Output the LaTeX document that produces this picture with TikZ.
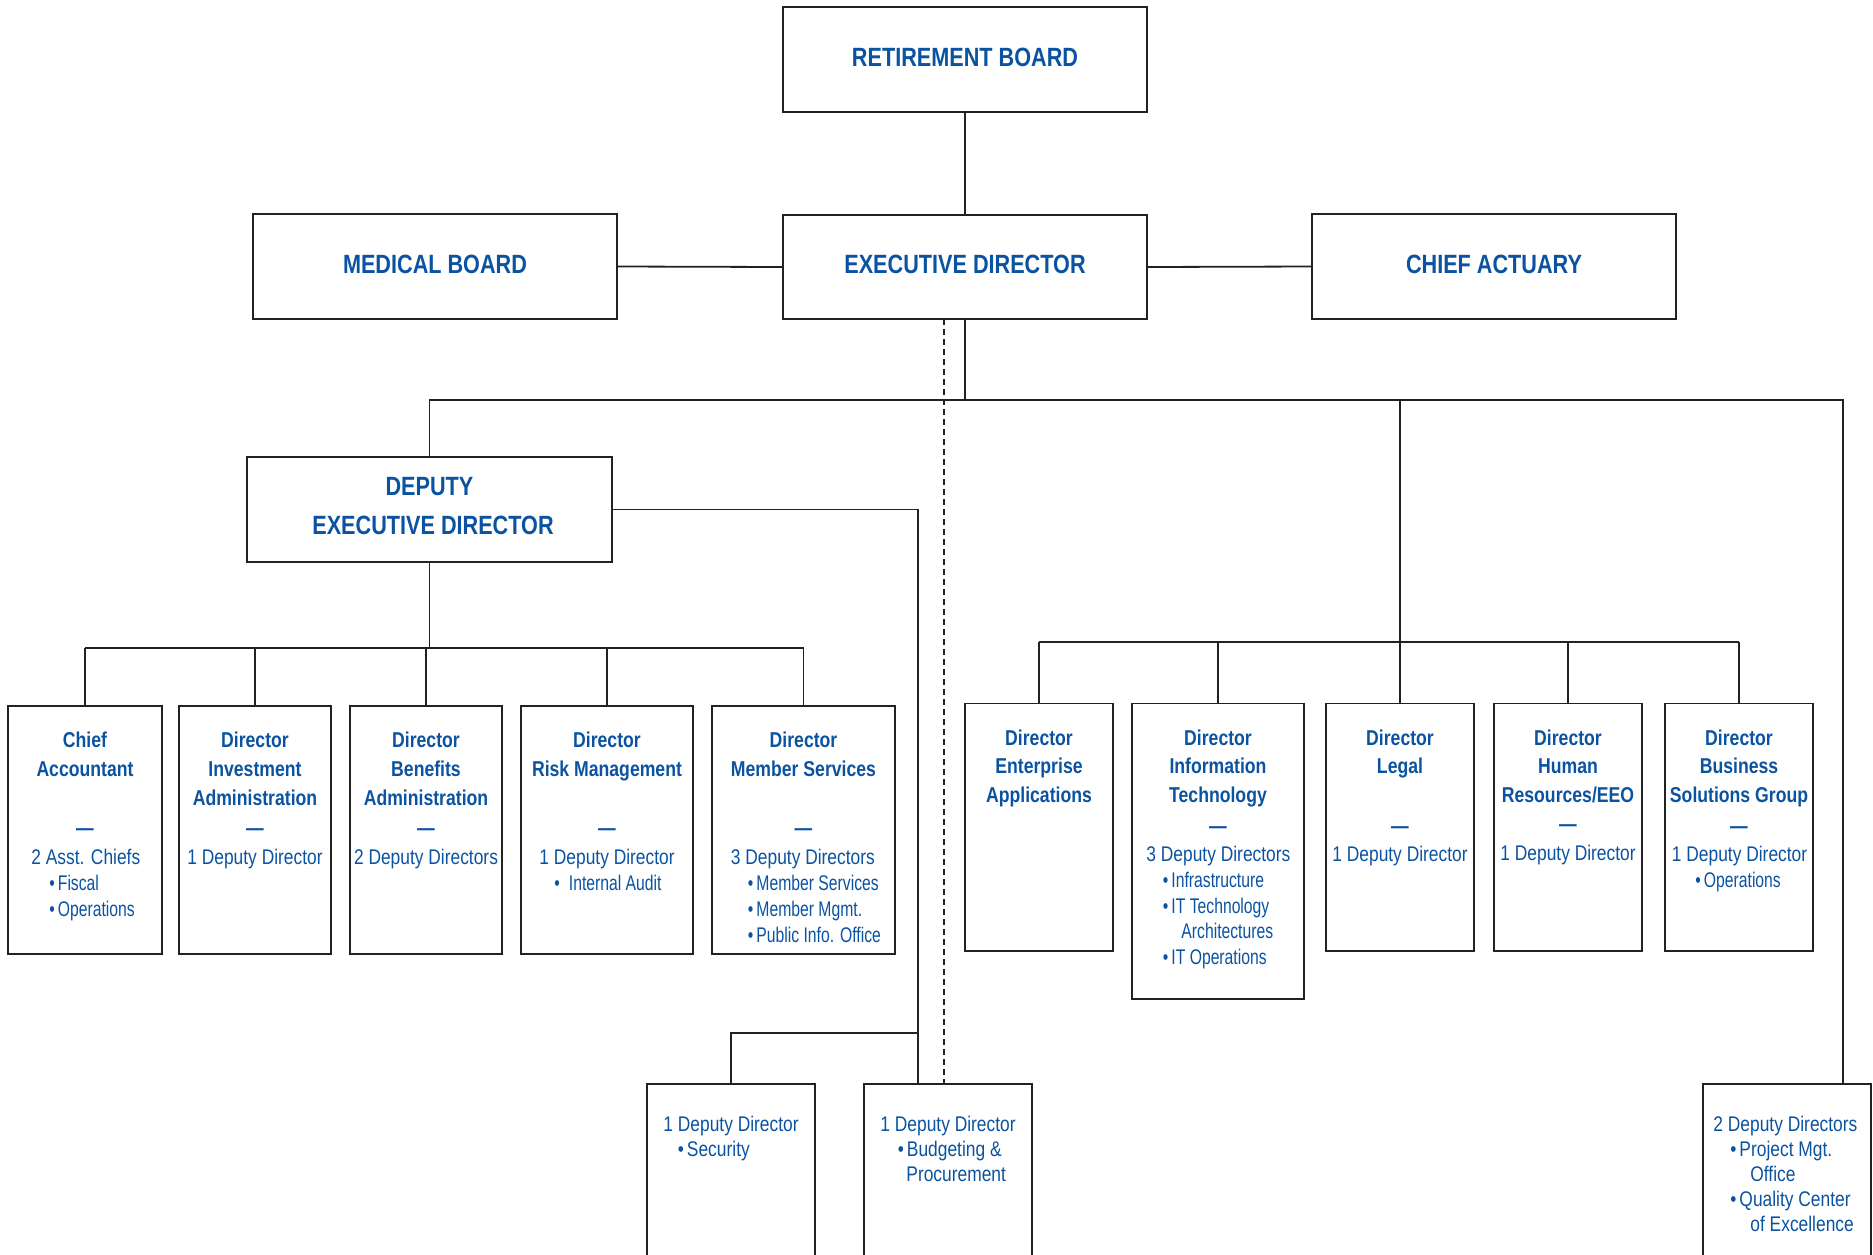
\documentclass[tikz,border=0pt]{standalone}
\usepackage{fontspec}
\setmainfont{Liberation Sans}[FakeStretch=0.82]
\newfontfamily\narrowfam{Liberation Sans}[FakeStretch=0.742]
\definecolor{txtblue}{HTML}{0B53A1}
\definecolor{linec}{HTML}{222222}
\newcommand\bx[5]{%
  \pgfmathsetmacro\bxw{(#4-#2)*0.5}%
  \pgfmathsetmacro\bxh{(#5-#3)*0.5}%
  \node[orgbox,minimum width=\bxw pt,minimum height=\bxh pt] (#1) at ({(#2+#4)/2},{(#3+#5)/2}) {};}
\begin{document}
\begin{tikzpicture}[x=0.5pt,y=-0.5pt,
  orgbox/.style={draw=linec,line width=0.9pt,rectangle,inner sep=0pt},
  conn/.style={draw=linec,line width=0.9pt},
  dsh/.style={dash pattern=on 3pt off 2pt},
  hd/.style={text=txtblue,font=\fontsize{13.2}{15}\selectfont\bfseries,anchor=base,inner sep=0pt},
  ttl/.style={text=txtblue,font=\fontsize{10.75}{13}\selectfont\bfseries,anchor=base,inner sep=0pt},
  bod/.style={text=txtblue,font=\fontsize{10.6}{12.7}\selectfont,anchor=base west,inner sep=0pt},
  bodn/.style={text=txtblue,font=\narrowfam\fontsize{10.6}{12.7}\selectfont,anchor=base west,inner sep=0pt},
  bodc/.style={bod,anchor=base}]
\useasboundingbox (0,0) rectangle (1873,1254);
\clip (0,0) rectangle (1873,1254);
% boxes
\bx{rb}{783}{7}{1147}{112}
\bx{ed}{783}{215}{1147}{319}
\bx{mb}{253}{214}{617}{319}
\bx{ca}{1312}{214}{1676}{319}
\bx{ded}{247}{457}{612}{562}
\bx{chief}{8}{706}{162}{954}
\bx{inv}{179}{706}{331}{954}
\bx{ben}{350}{706}{502}{954}
\bx{risk}{521}{706}{693}{954}
\bx{mem}{712}{706}{895}{954}
\bx{ent}{965}{703.5}{1113}{951}
\bx{it}{1132}{703.5}{1304}{999}
\bx{legal}{1326}{703.5}{1474}{951}
\bx{hr}{1494}{703.5}{1642}{951}
\bx{bsg}{1665}{703.5}{1813}{951}
\bx{sec}{647}{1084}{815}{1290}
\bx{bud}{864}{1084}{1032}{1290}
\bx{qce}{1703}{1084}{1871}{1290}
% connectors
\coordinate (busL) at (429.5,400);
\coordinate (busR) at (1843,400);
\coordinate (rbus) at (0,642);
\coordinate (lbus) at (0,648);
\coordinate (bj) at (917.7,1084);
\coordinate (sj) at (917.7,1033);
\coordinate (dtop) at (944,319);
\coordinate (dbot) at (944,1084);
\draw[conn] (rb.south) -- (ed.north);
\draw[conn] (mb.east) -- (ed.west);
\draw[conn] (ed.east) -- (ca.west);
\draw[conn] (ed.south) -- (ed.south |- busL);
\draw[conn] (ded.north) -- (busL) -- (busR) -- (busR |- qce.north);
\draw[conn] (legal.north |- busL) -- (legal.north);
\draw[conn] (ent.north |- rbus) -- (bsg.north |- rbus);
\foreach \n in {ent,it,hr,bsg} \draw[conn] (\n.north |- rbus) -- (\n.north);
\draw[conn] (ded.south) -- (ded.south |- lbus);
\draw[conn] (chief.north |- lbus) -- (mem.north |- lbus);
\foreach \n in {chief,inv,ben,risk,mem} \draw[conn] (\n.north |- lbus) -- (\n.north);
\draw[conn] (ded.east) -| (bj);
\draw[conn] (sj) -| (sec.north);
\draw[conn,dsh] (dtop) -- (dbot);
% headings
\node[hd] (rbt) at (965,66.7) {RETIREMENT BOARD};
\node[hd] (edt) at (965,273.3) {EXECUTIVE DIRECTOR};
\node[hd] (mbt) at (435,273.3) {MEDICAL BOARD};
\node[hd] (cat) at (1494,273.3) {CHIEF ACTUARY};
\node[hd] (dedt1) at (429.5,495) {DEPUTY};
\node[hd] (dedt2) at (433,534) {EXECUTIVE DIRECTOR};
% chief accountant
\node[ttl] (chief1) at (85,747.5) {Chief};
\node[ttl] (chief2) at (85,776) {Accountant};
\node[ttl] (chief3) at (85,835.5) {—};
\node[bod] (chief4) at (31,864) {2 Asst. Chiefs};
\node[bodn] (chief5) at (49,890) {•\hspace{1.5pt}Fiscal};
\node[bodn] (chief6) at (49,916) {•\hspace{1.5pt}Operations};
% investment
\node[ttl] (inv1) at (255,747.5) {Director};
\node[ttl] (inv2) at (255,776) {Investment};
\node[ttl] (inv3) at (255,805) {Administration};
\node[ttl] (inv4) at (255,835.5) {—};
\node[bodc] (inv5) at (255,864) {1 Deputy Director};
% benefits
\node[ttl] (ben1) at (426,747.5) {Director};
\node[ttl] (ben2) at (426,776) {Benefits};
\node[ttl] (ben3) at (426,805) {Administration};
\node[ttl] (ben4) at (426,835.5) {—};
\node[bodc] (ben5) at (426,864) {2 Deputy Directors};
% risk
\node[ttl] (risk1) at (607,747.5) {Director};
\node[ttl] (risk2) at (607,776) {Risk Management};
\node[ttl] (risk3) at (607,835.5) {—};
\node[bod] (risk4) at (539,864) {1 Deputy Director};
\node[bodn] (risk5) at (554,890) {•\hspace{4.5pt}Internal Audit};
% member
\node[ttl] (mem1) at (803.5,747.5) {Director};
\node[ttl] (mem2) at (803.5,776) {Member Services};
\node[ttl] (mem3) at (803.5,835.5) {—};
\node[bod] (mem4) at (730.5,864) {3 Deputy Directors};
\node[bodn] (mem5) at (747.5,890) {•\hspace{1.5pt}Member Services};
\node[bodn] (mem6) at (747.5,916) {•\hspace{1.5pt}Member Mgmt.};
\node[bodn] (mem7) at (747.5,942) {•\hspace{1.5pt}Public Info. Office};
% enterprise
\node[ttl] (ent1) at (1039,745) {Director};
\node[ttl] (ent2) at (1039,773.5) {Enterprise};
\node[ttl] (ent3) at (1039,802.5) {Applications};
% IT
\node[ttl] (it1) at (1218,745) {Director};
\node[ttl] (it2) at (1218,773.5) {Information};
\node[ttl] (it3) at (1218,802.5) {Technology};
\node[ttl] (it4) at (1218,833) {—};
\node[bod] (it5) at (1146,861.5) {3 Deputy Directors};
\node[bodn] (it6) at (1162.5,887.5) {•\hspace{1.5pt}Infrastructure};
\node[bodn] (it7) at (1162.5,913.5) {•\hspace{1.5pt}IT Technology};
\node[bodn] (it8) at (1181,938.5) {Architectures};
\node[bodn] (it9) at (1162.5,964) {•\hspace{1.5pt}IT Operations};
% legal
\node[ttl] (legal1) at (1400,745) {Director};
\node[ttl] (legal2) at (1400,773.5) {Legal};
\node[ttl] (legal3) at (1400,833) {—};
\node[bodc] (legal4) at (1400,861.5) {1 Deputy Director};
% HR
\node[ttl] (hr1) at (1568,745) {Director};
\node[ttl] (hr2) at (1568,773.5) {Human};
\node[ttl] (hr3) at (1568,802.5) {Resources/EEO};
\node[ttl] (hr4) at (1568,831) {—};
\node[bodc] (hr5) at (1568,860) {1 Deputy Director};
% BSG
\node[ttl] (bsg1) at (1739,745) {Director};
\node[ttl] (bsg2) at (1739,773.5) {Business};
\node[ttl] (bsg3) at (1739,802.5) {Solutions Group};
\node[ttl] (bsg4) at (1739,833) {—};
\node[bod] (bsg5) at (1671.5,861.5) {1 Deputy Director};
\node[bodn] (bsg6) at (1695,887.5) {•\hspace{1.5pt}Operations};
% bottom boxes
\node[bod] (sec1) at (663,1131) {1 Deputy Director};
\node[bod] (sec2) at (677.5,1156) {•\hspace{1.5pt}Security};
\node[bod] (bud1) at (880,1131) {1 Deputy Director};
\node[bod] (bud2) at (897.5,1156) {•\hspace{1.5pt}Budgeting \&};
\node[bod] (bud3) at (906,1181) {Procurement};
\node[bod] (qce1) at (1713,1131) {2 Deputy Directors};
\node[bod] (qce2) at (1730,1156) {•\hspace{1.5pt}Project Mgt.};
\node[bod] (qce3) at (1750,1181) {Office};
\node[bod] (qce4) at (1730,1206) {•\hspace{1.5pt}Quality Center};
\node[bod] (qce5) at (1750,1231) {of Excellence};
\end{tikzpicture}
\end{document}
